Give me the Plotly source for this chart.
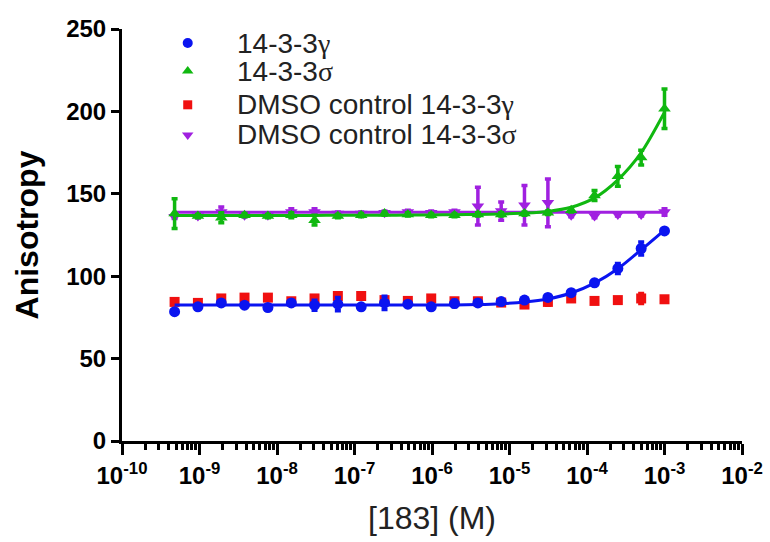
import plotly.graph_objects as go

# Concentration of compound 183 (M), 2-fold serial dilution
conc = [4.77e-10, 9.54e-10, 1.91e-9, 3.81e-9, 7.63e-9, 1.53e-8, 3.05e-8, 6.10e-8,
        1.22e-7, 2.44e-7, 4.88e-7, 9.77e-7, 1.95e-6, 3.91e-6, 7.81e-6, 1.56e-5,
        3.13e-5, 6.25e-5, 1.25e-4, 2.50e-4, 5.00e-4, 1.00e-3]

# 14-3-3 gamma + 183
gamma_mean = [78.5, 81.4, 83.8, 82.4, 81.0, 83.8, 82.4, 83.0, 81.4, 83.8, 83.0, 81.4,
              83.4, 83.8, 84.6, 85.5, 87.1, 90.0, 96.0, 104.7, 116.8, 127.5]
gamma_err = [1.0, 1.0, 1.0, 1.0, 1.0, 1.0, 3.0, 4.0, 1.0, 4.0, 1.0, 1.0,
             2.0, 1.0, 1.0, 1.0, 1.0, 1.0, 1.5, 3.0, 4.0, 1.0]
gamma_fit = [82.5, 82.5, 82.5, 82.5, 82.5, 82.5, 82.5, 82.5, 82.5, 82.5, 82.5, 82.5,
             82.6, 82.8, 83.3, 84.3, 86.2, 89.8, 95.8, 104.5, 116.0, 128.0]

# 14-3-3 sigma + 183
sigma_mean = [138.0, 136.5, 135.5, 137.0, 136.5, 137.0, 134.0, 136.5, 137.0, 138.0, 137.5, 137.0,
              137.0, 137.5, 137.5, 138.0, 138.5, 140.0, 149.0, 160.6, 172.0, 201.6]
sigma_err = [9.0, 1.0, 3.0, 1.0, 1.0, 1.5, 3.0, 1.0, 1.0, 1.0, 1.0, 1.0,
             1.0, 1.0, 1.0, 1.0, 1.0, 1.0, 3.0, 6.0, 4.5, 12.0]
sigma_fit = [136.8, 136.8, 136.8, 136.8, 136.9, 136.9, 136.9, 137.0, 137.0, 137.0, 137.1, 137.2,
             137.3, 137.5, 137.8, 138.3, 139.3, 141.8, 147.5, 158.5, 175.0, 199.5]

# DMSO control, 14-3-3 gamma
dmso_gamma_mean = [84.4, 83.8, 86.5, 87.0, 87.0, 84.8, 86.5, 88.0, 88.0, 85.5, 85.0, 86.5,
                   84.8, 84.8, 84.0, 82.8, 84.4, 86.5, 85.0, 85.5, 86.5, 86.0]
dmso_gamma_err = [1.5, 1.0, 1.5, 1.5, 1.5, 1.0, 1.5, 1.5, 2.0, 1.0, 1.0, 1.5,
                  1.0, 1.0, 1.0, 1.0, 2.0, 1.0, 1.0, 1.0, 3.0, 1.0]

# DMSO control, 14-3-3 sigma
dmso_sigma_mean = [136.0, 136.5, 139.0, 137.0, 137.0, 139.0, 139.0, 138.0, 138.0, 138.5, 139.0, 138.5,
                   139.0, 142.5, 139.5, 143.0, 144.5, 137.0, 136.5, 137.5, 137.5, 139.0]
dmso_sigma_err = [1.0, 1.0, 3.0, 1.0, 1.0, 2.0, 2.0, 1.0, 1.0, 1.0, 1.0, 1.0,
                  1.0, 11.5, 5.5, 12.0, 14.5, 1.0, 1.0, 1.0, 1.0, 2.0]
dmso_sigma_fit = [138.8] * len(conc)

series_labels = ["14-3-3<span style='font-family:Liberation Serif'>γ</span>",
                 "14-3-3<span style='font-family:Liberation Serif'>σ</span>",
                 "DMSO control 14-3-3<span style='font-family:Liberation Serif'>γ</span>",
                 "DMSO control 14-3-3<span style='font-family:Liberation Serif'>σ</span>"]
series_colors = ["#0a14f0", "#10b810", "#f01010", "#a020e0"]
series_symbols = ["circle", "triangle-up", "square", "triangle-down"]

x_tickvals = [1e-10, 1e-9, 1e-8, 1e-7, 1e-6, 1e-5, 1e-4, 1e-3, 1e-2]
x_ticktext = ["10<sup>-10</sup>", "10<sup>-9</sup>", "10<sup>-8</sup>", "10<sup>-7</sup>",
              "10<sup>-6</sup>", "10<sup>-5</sup>", "10<sup>-4</sup>", "10<sup>-3</sup>",
              "10<sup>-2</sup>"]

FONT = "Liberation Sans, Arial, sans-serif"

fig = go.Figure()


def points(y, err, color, symbol, size):
    return go.Scatter(
        x=conc, y=y, mode="markers", showlegend=False, cliponaxis=False,
        marker=dict(color=color, symbol=symbol, size=size, line=dict(width=0)),
        error_y=dict(type="data", array=err, visible=True, color=color,
                     thickness=3.5, width=3),
    )


def fit_line(y, color):
    return go.Scatter(
        x=conc, y=y, mode="lines", showlegend=False, hoverinfo="skip",
        line=dict(color=color, width=3, shape="spline", smoothing=0.8),
    )


# draw order: controls underneath, titrations on top
fig.add_trace(points(dmso_gamma_mean, dmso_gamma_err, series_colors[2], series_symbols[2], 10))
fig.add_trace(fit_line(dmso_sigma_fit, series_colors[3]))
fig.add_trace(points(dmso_sigma_mean, dmso_sigma_err, series_colors[3], series_symbols[3], 11))
fig.add_trace(fit_line(gamma_fit, series_colors[0]))
fig.add_trace(points(gamma_mean, gamma_err, series_colors[0], series_symbols[0], 11))
fig.add_trace(fit_line(sigma_fit, series_colors[1]))
fig.add_trace(points(sigma_mean, sigma_err, series_colors[1], series_symbols[1], 11))

# legend key, drawn on an overlay axis spanning the plot area (0..1)
legend_x_marker = 0.106
legend_x_text = 0.182
legend_rows = [0.966, 0.898, 0.816, 0.743]
for label, color, symbol, row in zip(series_labels, series_colors, series_symbols, legend_rows):
    fig.add_trace(go.Scatter(
        x=[legend_x_marker], y=[row], xaxis="x2", yaxis="y2", mode="markers",
        showlegend=False, hoverinfo="skip", cliponaxis=False,
        marker=dict(color=color, symbol=symbol, size=10 if symbol != "square" else 9),
    ))
    fig.add_annotation(
        x=legend_x_text, y=row, xref="x2", yref="y2", text=label, showarrow=False,
        xanchor="left", yanchor="middle", font=dict(family=FONT, size=28, color="#222222"),
    )

minor_vals = [m * 10.0 ** d for d in range(-10, -2) for m in range(2, 10)]

fig.update_layout(
    width=770, height=542,
    margin=dict(l=122, r=28, t=29, b=101),
    paper_bgcolor="white", plot_bgcolor="white",
    showlegend=False,
    font=dict(family=FONT, color="black"),
    xaxis=dict(
        type="log", range=[-10, -2], automargin=False,
        tickmode="array", tickvals=x_tickvals, ticktext=x_ticktext,
        ticks="outside", ticklen=11, tickwidth=3, tickcolor="black",
        showline=True, linewidth=3, linecolor="black",
        showgrid=False, zeroline=False,
        tickfont=dict(family=FONT, size=24, color="black", weight="bold"),
        minor=dict(tickmode="array", tickvals=minor_vals, ticks="outside",
                   ticklen=6, tickwidth=2.5, tickcolor="black", showgrid=False),
        title=dict(text="[183] (M)", font=dict(family=FONT, size=32, color="#222222"),
                   standoff=19),
    ),
    yaxis=dict(
        range=[0, 250], automargin=False, tickmode="linear", tick0=0, dtick=50,
        ticks="outside", ticklen=8, tickwidth=3, tickcolor="black",
        showline=True, linewidth=3, linecolor="black",
        showgrid=False, zeroline=False,
        tickfont=dict(family=FONT, size=24, color="black", weight="bold"),
        title=dict(text="Anisotropy", font=dict(family=FONT, size=32, color="black",
                                                 weight="bold"), standoff=18),
    ),
    xaxis2=dict(overlaying="x", range=[0, 1], visible=False, anchor="y2"),
    yaxis2=dict(overlaying="y", range=[0, 1], visible=False, anchor="x2"),
)

fig.write_html("out.html")
